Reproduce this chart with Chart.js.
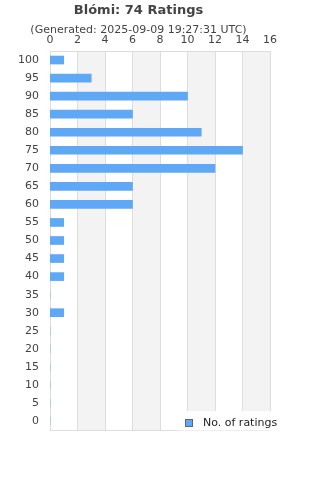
<!DOCTYPE html>
<html>
<head>
<meta charset="utf-8">
<script src="https://cdn.jsdelivr.net/npm/chart.js@4"></script>
<style>
  html, body { margin: 0; padding: 0; background: #fff; }
  canvas { display: block; }
</style>
</head>
<body>
<canvas id="ratingsChart" width="320" height="480"></canvas>
<script>
var ratingLabels = ['100', '95', '90', '85', '80', '75', '70', '65', '60', '55', '50',
  '45', '40', '35', '30', '25', '20', '15', '10', '5', '0'];
var ratingCounts = [1, 3, 10, 6, 11, 14, 12, 6, 6, 1, 1, 1, 1, 0, 1, 0, 0, 0, 0, 0, 0];
var xTickMax = 16;
var xTickStep = 2;

var fontFamily = '"DejaVu Sans", sans-serif';

// grey bands on every other x interval, plus the frame
var bandsPlugin = {
  id: 'bands',
  beforeDatasetsDraw: function(chart) {
    var ctx = chart.ctx;
    var area = chart.chartArea;
    var x = chart.scales.x;
    ctx.save();
    ctx.fillStyle = '#f3f3f3';
    for (var v = xTickStep; v < xTickMax; v += xTickStep * 2) {
      var a = x.getPixelForValue(v);
      var b = x.getPixelForValue(v + xTickStep);
      ctx.fillRect(a, area.top, b - a, area.bottom - area.top);
    }
    ctx.strokeStyle = '#dddddd';
    ctx.lineWidth = 1;
    for (var t = 0; t <= xTickMax; t += xTickStep) {
      var px = Math.round(x.getPixelForValue(t)) + 0.5;
      ctx.beginPath();
      ctx.moveTo(px, area.top);
      ctx.lineTo(px, area.bottom);
      ctx.stroke();
    }
    ctx.beginPath();
    ctx.moveTo(area.left, Math.round(area.top) + 0.5);
    ctx.lineTo(area.right, Math.round(area.top) + 0.5);
    ctx.moveTo(area.left, Math.round(area.bottom) + 0.5);
    ctx.lineTo(area.right, Math.round(area.bottom) + 0.5);
    ctx.stroke();
    ctx.restore();
  },
  afterDraw: function(chart) {
    // legend box sitting over the bottom right of the plot
    var ctx = chart.ctx;
    var area = chart.chartArea;
    var boxLeft = 178, boxTop = 411;
    ctx.save();
    ctx.fillStyle = '#ffffff';
    ctx.fillRect(boxLeft, boxTop, 320 - boxLeft, area.bottom - boxTop + 0.5);
    ctx.fillStyle = '#5fa8f5';
    ctx.fillRect(185.5, 419.5, 7, 7);
    ctx.strokeStyle = '#666666';
    ctx.lineWidth = 1;
    ctx.strokeRect(185.5, 419.5, 7, 7);
    ctx.fillStyle = '#222222';
    ctx.font = '11px ' + fontFamily;
    ctx.textBaseline = 'middle';
    ctx.fillText(chart.data.datasets[0].label, 203, 423);
    ctx.restore();
  }
};

new Chart(document.getElementById('ratingsChart'), {
  type: 'bar',
  data: {
    labels: ratingLabels,
    datasets: [{
      label: 'No. of ratings',
      data: ratingCounts,
      backgroundColor: '#5fa8f5',
      borderWidth: 0,
      barThickness: 8
    }]
  },
  plugins: [bandsPlugin],
  options: {
    indexAxis: 'y',
    responsive: false,
    animation: false,
    layout: { padding: { left: 7, right: 50, top: 0, bottom: 50 } },
    plugins: {
      legend: { display: false },
      tooltip: { enabled: false },
      title: {
        display: true,
        text: 'Blómi: 74 Ratings',
        color: '#444444',
        font: { family: fontFamily, size: 13, weight: 'bold' },
        padding: { top: 3, bottom: 5 }
      },
      subtitle: {
        display: true,
        text: '(Generated: 2025-09-09 19:27:31 UTC)',
        color: '#444444',
        font: { family: fontFamily, size: 11 },
        padding: { top: 0, bottom: -7 }
      }
    },
    scales: {
      x: {
        position: 'top',
        min: 0,
        max: xTickMax,
        ticks: {
          stepSize: xTickStep,
          color: '#444444',
          font: { family: fontFamily, size: 11 },
          padding: 4
        },
        grid: { display: false, drawTicks: false },
        border: { display: false }
      },
      y: {
        ticks: {
          color: '#444444',
          font: { family: fontFamily, size: 11 },
          padding: 11
        },
        grid: { display: false, drawTicks: false },
        border: { display: false }
      }
    }
  }
});
</script>
</body>
</html>
